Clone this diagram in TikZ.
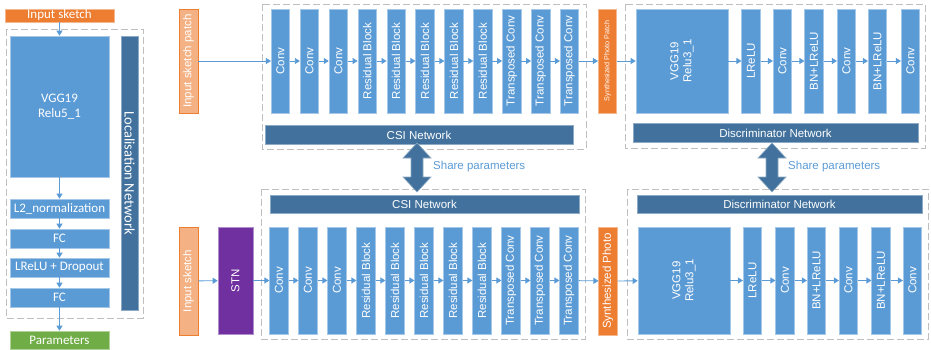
\documentclass[tikz,border=0pt]{standalone}
\usepackage{fontspec}
\setmainfont{Liberation Sans}
\newfontfamily\calfont{Carlito}
\usepackage{xcolor}
\definecolor{cBlue}{HTML}{5B9BD5}
\definecolor{cBar}{HTML}{41719C}
\definecolor{cOrange}{HTML}{ED7D31}
\definecolor{cOrangeL}{HTML}{F4B183}
\definecolor{cGreen}{HTML}{70AD47}
\definecolor{cPurple}{HTML}{7030A0}
\definecolor{cFrame}{HTML}{BFBFBF}
\usetikzlibrary{positioning,arrows.meta}
\newcommand{\fMain}{\fontsize{11.5}{13}\selectfont}
\newcommand{\fLeft}{\calfont\fontsize{13}{15}\selectfont}
\newcommand{\fTiny}{\fontsize{7.2}{8}\selectfont}
\tikzset{
  node-layer/.style={fill=cBlue,draw=cBlue!55!white,line width=0.6pt,text=white,
    rotate=90,inner sep=0pt,minimum width=104pt,minimum height=18.5pt,
    align=center,font=\fMain},
  node-layer-low/.style={node-layer,minimum width=107pt},
  node-vgg/.style={node-layer,minimum height=92pt},
  node-bar/.style={fill=cBar,draw=cBar!60!white,line width=0.6pt,text=white,
    inner sep=0pt,minimum height=18.5pt,font=\fMain},
  node-input/.style={fill=cOrangeL,draw=cOrange,line width=0.6pt,text=white,
    rotate=90,inner sep=0pt,minimum height=19pt,font=\fMain},
  node-photo/.style={fill=cOrange,draw=cOrange!55!white,line width=0.6pt,
    text=white,rotate=90,inner sep=0pt,minimum height=18.5pt},
  node-left/.style={fill=cBlue,draw=cBlue!55!white,line width=0.6pt,text=white,
    inner sep=0pt,minimum width=99pt,minimum height=19pt,align=center,
    font=\fLeft},
  frame/.style={draw=cFrame,line width=1pt,dash pattern=on 7pt off 3pt},
  arrow/.style={-{Triangle[length=5pt,width=6pt]},line width=0.8pt,draw=cBlue},
  share-arrow/.style={fill=cBar,draw=cBar!60!white,line width=0.6pt},
  share-text/.style={text=cBlue,anchor=west,inner sep=0pt,font=\fMain},
}
\begin{document}
\begin{tikzpicture}[x=1pt,y=-1pt]
  \useasboundingbox (0,0) rectangle (931,349);

  % left: localisation network
  \draw[frame] (6,29) rectangle (143,318);
  \node[fill=cOrange,draw=cOrange!55!white,text=white,inner sep=0pt,
    minimum width=109pt,minimum height=13pt,font=\fLeft] (inSketchL) at (59.5,15.5) {Input sketch};
  \node[node-left,minimum height=141pt] (vggL) at (59.5,106.5) {VGG19\\Relu5\_1};
  \node[node-left] (l2n) at (59.5,208.5) {L2\_normalization};
  \node[node-left] (fcA) at (59.5,238.5) {FC};
  \node[node-left] (lreluD) at (59.5,267.5) {LReLU + Dropout};
  \node[node-left] (fcB) at (59.5,297.5) {FC};
  \node[node-left,fill=cGreen,draw=cGreen!55!white,minimum height=18pt] (params) at (59.5,340) {Parameters};
  \node[node-bar,rotate=-90,minimum width=274pt,minimum height=17pt,
    font=\calfont\fontsize{14.5}{16}\selectfont] (locNet) at (129.5,173) {Localisation Network};
  \draw[arrow] (inSketchL) -- (vggL);
  \draw[arrow] (vggL) -- (l2n);
  \draw[arrow] (l2n) -- (fcA);
  \draw[arrow] (fcA) -- (lreluD);
  \draw[arrow] (lreluD) -- (fcB);
  \draw[arrow] (fcB) -- (params);

  % top: CSI network on patches
  \draw[frame] (262,4) rectangle (586,149);
  \node[node-input,minimum width=104pt] (inPatch) at (188.5,61) {Input sketch patch};
  \node[node-layer] (tConv1) at (280.5,61) {Conv};
  \node[node-layer] (tConv2) at (309.4,61) {Conv};
  \node[node-layer] (tConv3) at (338.3,61) {Conv};
  \node[node-layer] (tRes1) at (367.2,61) {Residual Block};
  \node[node-layer] (tRes2) at (396.1,61) {Residual Block};
  \node[node-layer] (tRes3) at (425.0,61) {Residual Block};
  \node[node-layer] (tRes4) at (453.9,61) {Residual Block};
  \node[node-layer] (tRes5) at (482.8,61) {Residual Block};
  \node[node-layer] (tTrans1) at (511.7,61) {Transposed Conv};
  \node[node-layer] (tTrans2) at (540.6,61) {Transposed Conv};
  \node[node-layer] (tTrans3) at (569.5,61) {Transposed Conv};
  \node[node-bar,minimum width=308pt] (csiTop) at (419,135) {CSI Network};
  \node[node-photo,minimum width=104pt,font=\fTiny] (synPatch) at (607.5,61) {Synthesized Photo Patch};

  % top: discriminator
  \draw[frame] (625,4) rectangle (925,148);
  \node[node-vgg] (tVgg) at (682,61) {VGG19\\Relu3\_1};
  \node[node-layer] (tLrelu) at (751,61) {LReLU};
  \node[node-layer] (tDconv1) at (782.5,61) {Conv};
  \node[node-layer] (tBn1) at (814,61) {BN+LReLU};
  \node[node-layer] (tDconv2) at (846.5,61) {Conv};
  \node[node-layer] (tBn2) at (877.5,61) {BN+LReLU};
  \node[node-layer] (tDconv3) at (910.5,61) {Conv};
  \node[node-bar,minimum width=285pt] (discTop) at (775.5,133) {Discriminator Network};

  \draw[arrow] (inPatch) -- (tConv1);
  \draw[arrow] (tConv1) -- (tConv2);
  \draw[arrow] (tConv2) -- (tConv3);
  \draw[arrow] (tConv3) -- (tRes1);
  \draw[arrow] (tRes1) -- (tRes2);
  \draw[arrow] (tRes2) -- (tRes3);
  \draw[arrow] (tRes3) -- (tRes4);
  \draw[arrow] (tRes4) -- (tRes5);
  \draw[arrow] (tRes5) -- (tTrans1);
  \draw[arrow] (tTrans1) -- (tTrans2);
  \draw[arrow] (tTrans2) -- (tTrans3);
  \draw[arrow] (tTrans3) -- (synPatch);
  \draw[arrow] (synPatch) -- (tVgg);
  \draw[arrow] (tVgg) -- (tLrelu);
  \draw[arrow] (tLrelu) -- (tDconv1);
  \draw[arrow] (tDconv1) -- (tBn1);
  \draw[arrow] (tBn1) -- (tDconv2);
  \draw[arrow] (tDconv2) -- (tBn2);
  \draw[arrow] (tBn2) -- (tDconv3);

  % bottom: full sketch through STN
  \draw[frame] (261,189) rectangle (585,339);
  \node[node-input,minimum width=108pt] (inSketch) at (188.5,281) {Input sketch};
  \node[node-layer-low,fill=cPurple,draw=cPurple!55!white,minimum height=35pt] (stn) at (235.5,280.5) {STN};
  \node[node-bar,minimum width=309pt] (csiBot) at (424.5,204.5) {CSI Network};
  \node[node-layer-low] (bConv1) at (279,280.5) {Conv};
  \node[node-layer-low] (bConv2) at (308,280.5) {Conv};
  \node[node-layer-low] (bConv3) at (337,280.5) {Conv};
  \node[node-layer-low] (bRes1) at (366,280.5) {Residual Block};
  \node[node-layer-low] (bRes2) at (395,280.5) {Residual Block};
  \node[node-layer-low] (bRes3) at (424,280.5) {Residual Block};
  \node[node-layer-low] (bRes4) at (453,280.5) {Residual Block};
  \node[node-layer-low] (bRes5) at (482,280.5) {Residual Block};
  \node[node-layer-low] (bTrans1) at (511,280.5) {Transposed Conv};
  \node[node-layer-low] (bTrans2) at (540,280.5) {Transposed Conv};
  \node[node-layer-low] (bTrans3) at (569,280.5) {Transposed Conv};
  \node[node-photo,minimum width=108pt,font=\fMain] (synPhoto) at (608,281) {Synthesized Photo};

  % bottom: discriminator
  \draw[frame] (627,189) rectangle (928,339);
  \node[node-bar,minimum width=285pt] (discBot) at (779.5,204.5) {Discriminator Network};
  \node[node-vgg,minimum width=107pt] (bVgg) at (684,280.5) {VGG19\\Relu3\_1};
  \node[node-layer-low] (bLrelu) at (752.5,280.5) {LReLU};
  \node[node-layer-low] (bDconv1) at (785,280.5) {Conv};
  \node[node-layer-low] (bBn1) at (816.5,280.5) {BN+LReLU};
  \node[node-layer-low] (bDconv2) at (848.5,280.5) {Conv};
  \node[node-layer-low] (bBn2) at (881,280.5) {BN+LReLU};
  \node[node-layer-low] (bDconv3) at (912.5,280.5) {Conv};

  \draw[arrow] (inSketch) -- (stn);
  \draw[arrow] (stn) -- (bConv1);
  \draw[arrow] (bConv1) -- (bConv2);
  \draw[arrow] (bConv2) -- (bConv3);
  \draw[arrow] (bConv3) -- (bRes1);
  \draw[arrow] (bRes1) -- (bRes2);
  \draw[arrow] (bRes2) -- (bRes3);
  \draw[arrow] (bRes3) -- (bRes4);
  \draw[arrow] (bRes4) -- (bRes5);
  \draw[arrow] (bRes5) -- (bTrans1);
  \draw[arrow] (bTrans1) -- (bTrans2);
  \draw[arrow] (bTrans2) -- (bTrans3);
  \draw[arrow] (bTrans3) -- (synPhoto);
  \draw[arrow] (synPhoto) -- (bVgg);
  \draw[arrow] (bVgg) -- (bLrelu);
  \draw[arrow] (bLrelu) -- (bDconv1);
  \draw[arrow] (bDconv1) -- (bBn1);
  \draw[arrow] (bBn1) -- (bDconv2);
  \draw[arrow] (bDconv2) -- (bBn2);
  \draw[arrow] (bBn2) -- (bDconv3);

  % shared weights (block double arrows)
  \coordinate (shareCsi) at (417,143);
  \filldraw[share-arrow] (shareCsi) -- ++(14,15) -- ++(-8,0) -- ++(0,19) -- ++(8,0)
    -- ++(-14,15) -- ++(-14,-15) -- ++(8,0) -- ++(0,-19) -- ++(-8,0) -- cycle;
  \node[share-text] (shareCsiTxt) at (433,167) {Share parameters};
  \coordinate (shareDisc) at (772,143);
  \filldraw[share-arrow] (shareDisc) -- ++(14,15) -- ++(-8,0) -- ++(0,19) -- ++(8,0)
    -- ++(-14,15) -- ++(-14,-15) -- ++(8,0) -- ++(0,-19) -- ++(-8,0) -- cycle;
  \node[share-text] (shareDiscTxt) at (788,167) {Share parameters};
\end{tikzpicture}
\end{document}
